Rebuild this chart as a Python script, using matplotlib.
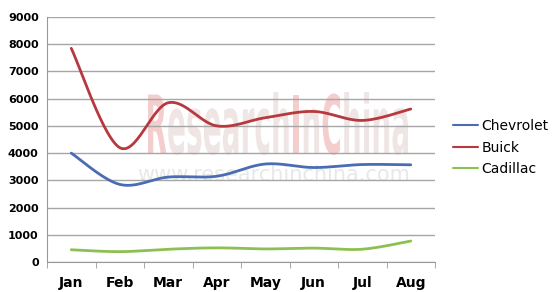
import numpy as np
import matplotlib
matplotlib.use("Agg")
import matplotlib.pyplot as plt
from matplotlib.textpath import TextPath, TextToPath
from matplotlib.font_manager import FontProperties
from matplotlib.patches import PathPatch
from matplotlib.transforms import Affine2D

months = ["Jan", "Feb", "Mar", "Apr", "May", "Jun", "Jul", "Aug"]
chevrolet = [4000, 2850, 3120, 3150, 3600, 3470, 3580, 3570]
buick = [7850, 4200, 5850, 5000, 5300, 5530, 5200, 5620]
cadillac = [450, 380, 470, 520, 480, 510, 470, 770]
series_names = ["Chevrolet", "Buick", "Cadillac"]
colors = ["#4a6cb3", "#b5393f", "#8cc152"]
yticks = [0, 1000, 2000, 3000, 4000, 5000, 6000, 7000, 8000, 9000]


def smooth(xs, ys, n=30, t=0.5):
    xs = np.asarray(xs, float)
    ys = np.asarray(ys, float)
    px, py = [], []
    m = len(xs)
    for i in range(m - 1):
        x0, y0 = (xs[i - 1], ys[i - 1]) if i > 0 else (xs[i], ys[i])
        x1, y1 = xs[i], ys[i]
        x2, y2 = xs[i + 1], ys[i + 1]
        x3, y3 = (xs[i + 2], ys[i + 2]) if i + 2 < m else (xs[i + 1], ys[i + 1])
        c1x = x1 + (x2 - x0) * t / 3
        c1y = y1 + (y2 - y0) * t / 3
        c2x = x2 - (x3 - x1) * t / 3
        c2y = y2 - (y3 - y1) * t / 3
        s = np.linspace(0, 1, n, endpoint=(i == m - 2))
        bx = (1 - s) ** 3 * x1 + 3 * (1 - s) ** 2 * s * c1x + 3 * (1 - s) * s ** 2 * c2x + s ** 3 * x2
        by = (1 - s) ** 3 * y1 + 3 * (1 - s) ** 2 * s * c1y + 3 * (1 - s) * s ** 2 * c2y + s ** 3 * y2
        px.extend(bx)
        py.extend(by)
    return np.array(px), np.array(py)


W, H = 557, 292
fig = plt.figure(figsize=(W / 100, H / 100), dpi=100)
ax = fig.add_axes([47 / W, 1 - 262 / H, (435 - 47) / W, (262 - 17) / H])
ax.set_zorder(1)

# watermark, drawn as stretched text paths in pixel coordinates
prop = FontProperties(family="DejaVu Sans", weight="bold", size=40)
segs = [("R", "#f4cdcd"), ("esearch", "#f0e5e5"), ("I", "#f4cdcd"), ("n", "#f0e5e5"),
        ("C", "#f4cdcd"), ("hina", "#f0e5e5")]
full = "".join(s for s, _ in segs)
full_path = TextPath((0, 0), full, size=40, prop=prop)
ext = full_path.get_extents()
sx = (408 - 148) / ext.width
sy = (155 - 92) / ext.height
ttp = TextToPath()
tr = Affine2D().translate(-ext.x0, -ext.y0).scale(sx, sy).translate(148, H - 155)
prefix = ""
for seg, col in segs:
    off = 0.0
    if prefix:
        off = ttp.get_text_width_height_descent(prefix, prop, ismath=False)[0]
    p = TextPath((off, 0), seg, size=40, prop=prop)
    fig.patches.append(PathPatch(p, transform=tr, facecolor=col, edgecolor="none", zorder=0))
    prefix += seg

fig.text(0.492, 1 - 175 / H, "www.researchinchina.com", fontsize=15, color="#e8e8e8",
         ha="center", va="center", zorder=0)

x = np.arange(len(months))
for name, vals, c in zip(series_names, [chevrolet, buick, cadillac], colors):
    sxp, syp = smooth(x, vals, t=0.5)
    ax.plot(sxp, syp, color=c, lw=2.0, label=name, solid_capstyle="round")

ax.set_xlim(-0.5, len(months) - 0.5)
ax.set_ylim(0, 9000)
ax.set_yticks(yticks)
ax.set_yticklabels([str(v) for v in yticks], fontsize=8, fontweight="bold")
ax.set_xticks(x)
ax.set_xticklabels(months, fontsize=10, fontweight="bold")
ax.set_xticks(np.arange(-0.5, len(months), 1), minor=True)
ax.tick_params(axis="x", which="major", length=0, pad=10)
ax.tick_params(axis="x", which="minor", length=4, color="#999999")
ax.tick_params(axis="y", length=0, pad=6)
ax.grid(axis="y", color="#a6a6a6", lw=1)
ax.set_axisbelow(True)
ax.set_facecolor("none")
for s in ["top", "right"]:
    ax.spines[s].set_visible(False)
ax.spines["left"].set_color("#999999")
ax.spines["bottom"].set_color("#999999")

leg = fig.legend(loc="upper left", bbox_to_anchor=(453 / W, 1 - 119 / H), frameon=False,
                 fontsize=10, handlelength=1.8, handletextpad=0.25, labelspacing=0.55,
                 borderaxespad=0, borderpad=0)
for h in leg.get_lines():
    h.set_linewidth(1.5)

fig.savefig("out.png", dpi=100)
